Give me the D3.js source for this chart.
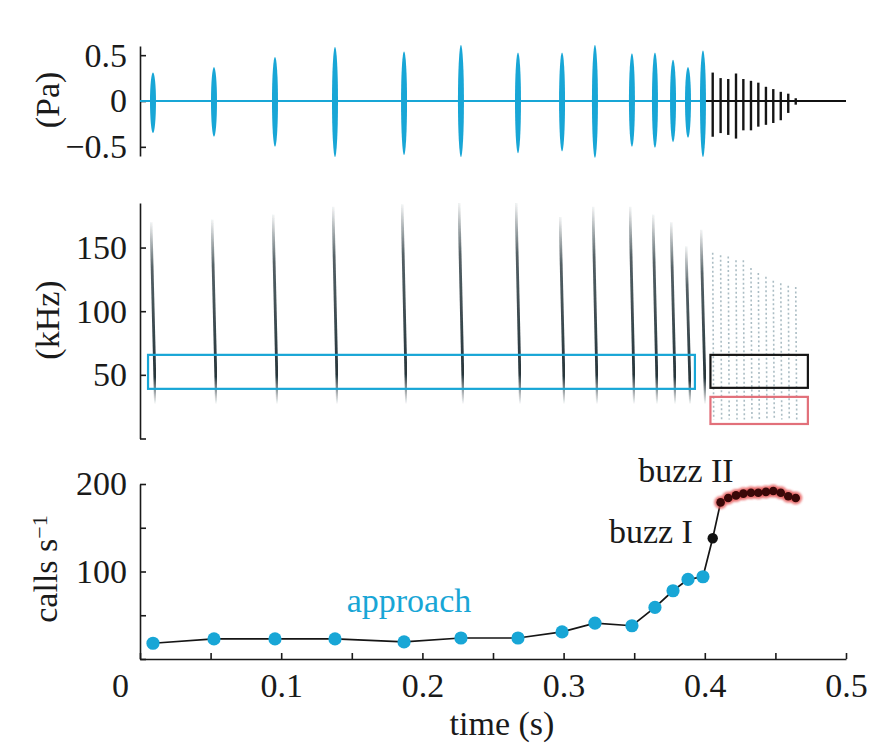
<!DOCTYPE html>
<html>
<head>
<meta charset="utf-8">
<title>Echolocation call sequence</title>
<style>
  body { margin: 0; background: #fff; }
  text { font-family: "Liberation Serif", "DejaVu Serif", serif; font-size: 34px; fill: #1a1a1a; }
  .axis path, .axis line { stroke: #1a1a1a; stroke-width: 1.6; fill: none; }
  .axis text { font-size: 34px; fill: #1a1a1a; }
</style>
</head>
<body>
<svg width="881" height="744"></svg>
<script src="https://cdnjs.cloudflare.com/ajax/libs/d3/7.8.5/d3.min.js"></script>
<script>
// approach calls (blue)
var approachTime    = [0.0092, 0.0524, 0.0956, 0.1381, 0.1870, 0.2273, 0.2677, 0.2989, 0.3222, 0.3484, 0.3647, 0.3775, 0.3881, 0.3987];
var approachPeak    = [0.31, 0.37, 0.48, 0.59, 0.54, 0.61, 0.53, 0.53, 0.61, 0.52, 0.53, 0.45, 0.37, 0.55];
var approachTrough  = [-0.35, -0.39, -0.50, -0.61, -0.59, -0.61, -0.57, -0.55, -0.62, -0.50, -0.51, -0.45, -0.40, -0.61];
var approachTopFreq = [170, 172, 176, 182, 184, 185, 185, 174, 182, 182, 176, 170, 151, 164];
var approachEndFreq = 27;
var approachRate    = [18, 23, 23, 23, 19.5, 24, 24, 31, 41, 38, 59, 78, 91, 94];

// buzz calls (first = buzz I, rest = buzz II)
var buzzTime    = [0.4056, 0.4112, 0.4166, 0.4221, 0.4273, 0.4327, 0.4379, 0.4433, 0.4485, 0.4538, 0.4591, 0.4644];
var buzzPeak    = [0.31, 0.25, 0.24, 0.30, 0.24, 0.22, 0.20, 0.155, 0.13, 0.10, 0.08, 0.03];
var buzzTrough  = [-0.39, -0.35, -0.37, -0.41, -0.32, -0.32, -0.28, -0.26, -0.24, -0.21, -0.13, -0.04];
var buzzTopFreq = [146, 144, 143, 140, 140, 134, 130, 127, 124, 122, 120, 119];
var buzzEndFreq = 15;
var buzzRate    = [138, 179, 184, 187, 189, 190, 190, 191, 192, 190, 186, 184];

// analysis windows in the spectrogram [t0, t1, f0, f1]
var approachBox = [0.0057, 0.393, 39, 65.7];
var buzzIBox    = [0.404, 0.473, 39.8, 65.7];
var buzzIIBox   = [0.404, 0.473, 11.4, 32.7];

var xTicks     = [0, 0.05, 0.1, 0.15, 0.2, 0.25, 0.3, 0.35, 0.4, 0.45, 0.5];
var paTicks    = [-0.5, 0, 0.5];
var khzTicks   = [0, 50, 100, 150];
var rateTicks  = [0, 50, 100, 150, 200];

var blue = "#18a6d6", red = "#e2707a";

var svg = d3.select("svg");

var x = d3.scaleLinear().domain([0, 0.5]).range([140, 846]);
var yPa = d3.scaleLinear().domain([-0.6, 0.6]).range([156, 46]);
var yKhz = d3.scaleLinear().domain([0, 185]).range([438.5, 203]);
var yRate = d3.scaleLinear().domain([0, 200]).range([659, 484]);

var defs = svg.append("defs");
var grad = defs.append("linearGradient")
    .attr("id", "sweep")
    .attr("x1", 0).attr("y1", 0).attr("x2", 0).attr("y2", 1);
grad.append("stop").attr("offset", "0%").attr("stop-color", "#2a3a40").attr("stop-opacity", 0.05);
grad.append("stop").attr("offset", "25%").attr("stop-color", "#2a3a40").attr("stop-opacity", 0.8);
grad.append("stop").attr("offset", "85%").attr("stop-color", "#1a2a30").attr("stop-opacity", 0.95);
grad.append("stop").attr("offset", "100%").attr("stop-color", "#1a2a30").attr("stop-opacity", 0.0);
defs.append("filter").attr("id", "soft")
  .append("feGaussianBlur").attr("stdDeviation", 0.7);
defs.append("filter").attr("id", "glow")
  .append("feGaussianBlur").attr("stdDeviation", 1.2);

var approach = approachTime.map(function(t, i) {
  return {t: t, peak: approachPeak[i], trough: approachTrough[i], top: approachTopFreq[i], rate: approachRate[i]};
});
var buzz = buzzTime.map(function(t, i) {
  return {t: t, peak: buzzPeak[i], trough: buzzTrough[i], top: buzzTopFreq[i], rate: buzzRate[i]};
});

// ---------- oscillogram ----------
svg.append("g")
    .attr("class", "axis")
    .attr("transform", "translate(140,0)")
    .call(d3.axisLeft(yPa).tickValues(paTicks).tickSizeInner(-6).tickSizeOuter(0).tickPadding(13)
      .tickFormat(function(d) { return d === 0 ? "0" : d3.format(".1f")(d); }));

svg.append("line")
    .attr("x1", x(0)).attr("x2", x(approachTime[approachTime.length - 1]))
    .attr("y1", yPa(0)).attr("y2", yPa(0))
    .attr("stroke", blue).attr("stroke-width", 2.2);
svg.append("line")
    .attr("x1", x(approachTime[approachTime.length - 1])).attr("x2", x(0.5))
    .attr("y1", yPa(0)).attr("y2", yPa(0))
    .attr("stroke", "#111").attr("stroke-width", 2);

svg.selectAll(".osc-approach")
  .data(approach)
  .enter().append("path")
    .attr("class", "osc-approach")
    .attr("fill", blue)
    .attr("d", function(d) {
      var cx = x(d.t), y0 = yPa(0), up = y0 - yPa(d.peak), dn = yPa(d.trough) - y0;
      return "M" + (cx - 3) + "," + y0 +
        "A3," + up + " 0 0 1 " + (cx + 3) + "," + y0 +
        "A3," + dn + " 0 0 1 " + (cx - 3) + "," + y0 + "Z";
    });

svg.selectAll(".osc-buzz")
  .data(buzz)
  .enter().append("line")
    .attr("class", "osc-buzz")
    .attr("x1", function(d) { return x(d.t); })
    .attr("x2", function(d) { return x(d.t); })
    .attr("y1", function(d) { return yPa(d.peak); })
    .attr("y2", function(d) { return yPa(d.trough); })
    .attr("stroke", "#151515").attr("stroke-width", 2.4);

// ---------- spectrogram ----------
svg.append("g")
    .attr("class", "axis")
    .attr("transform", "translate(140,0)")
    .call(d3.axisLeft(yKhz).tickValues(khzTicks).tickSizeInner(-6).tickSizeOuter(0).tickPadding(13)
      .tickFormat(function(d) { return d === 0 ? "" : d; }));

svg.selectAll(".spec-buzz")
  .data(buzz)
  .enter().append("line")
    .attr("class", "spec-buzz")
    .attr("x1", function(d) { return x(d.t); })
    .attr("x2", function(d) { return x(d.t) + 1; })
    .attr("y1", function(d) { return yKhz(d.top); })
    .attr("y2", yKhz(buzzEndFreq))
    .attr("stroke", "#7f9aa5").attr("stroke-width", 1.6)
    .attr("stroke-dasharray", "2,2.5").attr("opacity", 0.65);

svg.selectAll(".spec-approach")
  .data(approach)
  .enter().append("path")
    .attr("class", "spec-approach")
    .attr("fill", "none")
    .attr("stroke", "url(#sweep)")
    .attr("stroke-width", 2.8)
    .attr("filter", "url(#soft)")
    .attr("d", function(d) {
      var cx = x(d.t), y1 = yKhz(d.top), y2 = yKhz(approachEndFreq);
      return "M" + (cx - 2) + "," + y1 + "Q" + (cx + 0.5) + "," + ((y1 + y2) / 2) + " " + (cx + 2.5) + "," + y2;
    });

function box(b, color) {
  svg.append("rect")
      .attr("x", x(b[0])).attr("y", yKhz(b[3]))
      .attr("width", x(b[1]) - x(b[0])).attr("height", yKhz(b[2]) - yKhz(b[3]))
      .attr("fill", "none").attr("stroke", color).attr("stroke-width", 2.2);
}
box(approachBox, blue);
box(buzzIBox, "#151515");
box(buzzIIBox, red);

// ---------- call rate ----------
svg.append("g")
    .attr("class", "axis")
    .attr("transform", "translate(140,0)")
    .call(d3.axisLeft(yRate).tickValues(rateTicks).tickSizeInner(-6).tickSizeOuter(0).tickPadding(13)
      .tickFormat(function(d) { return d % 100 === 0 && d > 0 ? d : ""; }));

var xAxis = svg.append("g")
    .attr("class", "axis")
    .attr("transform", "translate(0,659)")
    .call(d3.axisBottom(x).tickValues(xTicks).tickSizeInner(-6).tickSizeOuter(0).tickPadding(14)
      .tickFormat(function(d) {
        if (d === 0) return "0";
        return Math.round(d * 100) % 10 === 0 ? d3.format(".1f")(d) : "";
      }));
xAxis.selectAll(".tick text").filter(function(d) { return d === 0; }).attr("dx", -20);

var all = approach.concat(buzz);
svg.append("path")
    .datum(all)
    .attr("fill", "none").attr("stroke", "#151515").attr("stroke-width", 1.7)
    .attr("d", d3.line().x(function(d) { return x(d.t); }).y(function(d) { return yRate(d.rate); }));

svg.selectAll(".dot-approach")
  .data(approach)
  .enter().append("circle")
    .attr("class", "dot-approach")
    .attr("cx", function(d) { return x(d.t); })
    .attr("cy", function(d) { return yRate(d.rate); })
    .attr("r", 6.6)
    .attr("fill", blue);

var buzz2 = buzz.slice(1);
svg.selectAll(".dot-halo")
  .data(buzz2)
  .enter().append("circle")
    .attr("class", "dot-halo")
    .attr("cx", function(d) { return x(d.t); })
    .attr("cy", function(d) { return yRate(d.rate); })
    .attr("r", 6.5)
    .attr("fill", "#e65a5a").attr("opacity", 0.8)
    .attr("filter", "url(#glow)");
svg.selectAll(".dot-buzz2")
  .data(buzz2)
  .enter().append("circle")
    .attr("class", "dot-buzz2")
    .attr("cx", function(d) { return x(d.t); })
    .attr("cy", function(d) { return yRate(d.rate); })
    .attr("r", 4.3)
    .attr("fill", "#3a0808");

svg.append("circle")
    .attr("cx", x(buzz[0].t)).attr("cy", yRate(buzz[0].rate))
    .attr("r", 5.2).attr("fill", "#111");

svg.append("text")
    .attr("x", x(0.1905)).attr("y", yRate(53.7))
    .attr("text-anchor", "middle")
    .style("fill", blue)
    .text("approach");
svg.append("text")
    .attr("x", x(0.3867)).attr("y", yRate(202))
    .attr("text-anchor", "middle")
    .text("buzz II");
svg.append("text")
    .attr("x", x(0.3916)).attr("y", yRate(132.6))
    .attr("text-anchor", "end")
    .text("buzz I");

// ---------- axis titles ----------
svg.append("text")
    .attr("text-anchor", "middle")
    .attr("x", 502).attr("y", 735)
    .text("time (s)");

function yTitle(cx, cy) {
  return svg.append("text")
      .attr("text-anchor", "middle")
      .attr("transform", "translate(" + cx + "," + cy + ") rotate(-90)")
      .attr("dy", "0.35em");
}
yTitle(47, 100).text("(Pa)");
yTitle(47, 320).text("(kHz)");
var calls = yTitle(45, 569);
calls.append("tspan").text("calls s");
calls.append("tspan").attr("dy", "-0.45em").style("font-size", "22px").text("\u22121");
</script>
</body>
</html>
